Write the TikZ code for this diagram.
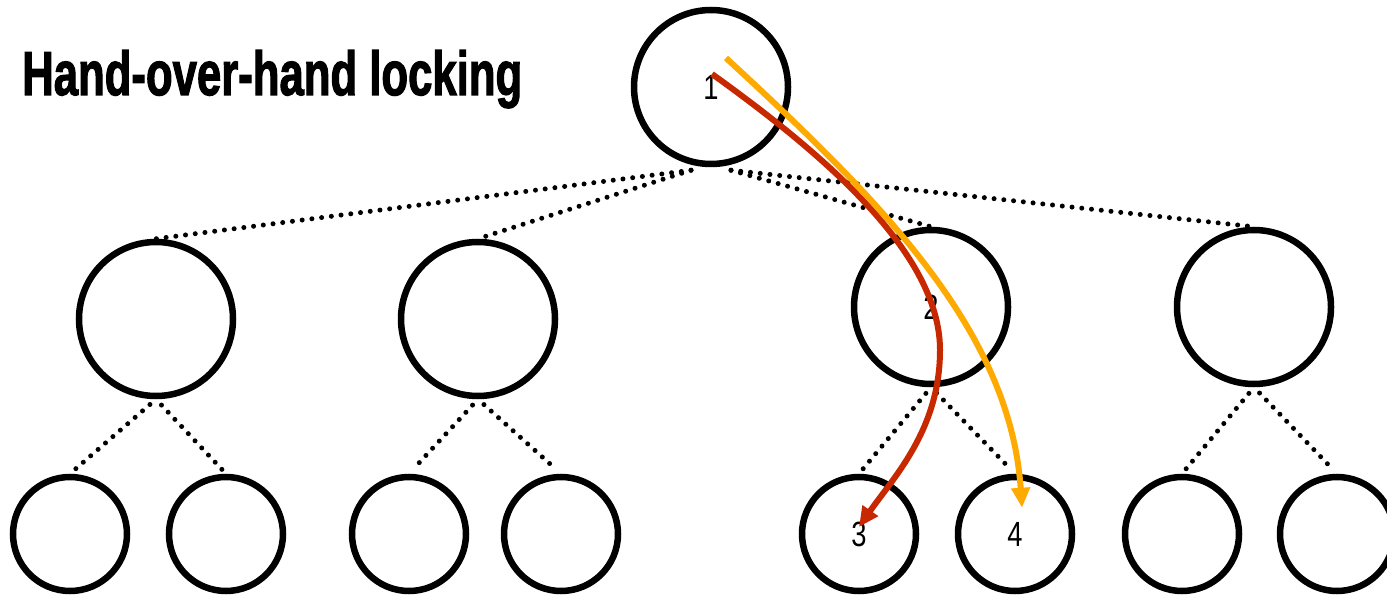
\documentclass[tikz,border=0pt]{standalone}
\usepackage{fontspec}
\setmainfont{Liberation Sans}
\newfontfamily\titlefont[FakeBold=2.2]{Liberation Sans Bold}
\usetikzlibrary{arrows.meta,calc}
\definecolor{lockred}{HTML}{C82800}
\definecolor{lockorange}{HTML}{FFAA00}
\begin{document}
\begin{tikzpicture}[x=1pt,y=-1pt,
  bignode/.style={circle,draw=black,line width=6.5pt,minimum size=154pt,inner sep=0pt,
    font=\fontsize{35}{35}\selectfont},
  smallnode/.style={circle,draw=black,line width=6.5pt,minimum size=114pt,inner sep=0pt,
    font=\fontsize{35}{35}\selectfont},
  dotline/.style={line width=5pt,dash pattern=on 0pt off 9.8pt,line cap=round},
  dotshort/.style={dotline,shorten <=8pt,shorten >=6pt},
  redarrow/.style={draw=lockred,line width=6pt,-{Triangle[length=20pt,width=18pt]}},
  orangearrow/.style={draw=lockorange,line width=6pt,-{Triangle[length=20pt,width=18pt]}},
  titlestyle/.style={anchor=base west,inner sep=0pt,font=\titlefont}
]
\useasboundingbox (0,0) rectangle (1387,596);

\node[titlestyle] (title) at (22,95) {\resizebox{500pt}{45pt}{Hand-over-hand locking}};

% level 1
\node[bignode] (n1) at (711,87) {\scalebox{0.78}[1]{1}};
% level 2
\node[bignode] (a) at (156,319) {};
\node[bignode] (b) at (478,319) {};
\node[bignode] (n2) at (931,307) {\scalebox{0.78}[1]{2}};
\node[bignode] (d) at (1254,307) {};
% level 3
\node[smallnode] (a1) at (70,534) {};
\node[smallnode] (a2) at (226,534) {};
\node[smallnode] (b1) at (409,534) {};
\node[smallnode] (b2) at (561,534) {};
\node[smallnode] (n3) at (859,534) {\scalebox{0.78}[1]{3}};
\node[smallnode] (n4) at (1015,534) {\scalebox{0.78}[1]{4}};
\node[smallnode] (d1) at (1182,534) {};
\node[smallnode] (d2) at (1337,534) {};

% dotted tree edges
\coordinate (n1l) at ($(n1.south)+(-20,3)$);
\coordinate (n1r) at ($(n1.south)+(20,3)$);
\draw[dotline] (n1l) -- (a.north);
\draw[dotline] (n1l) -- (b.north);
\draw[dotline] (n1r) -- (n2.north);
\draw[dotline] (n1r) -- (d.north);

\foreach \p/\l/\r in {a/a1/a2, b/b1/b2, n2/n3/n4, d/d1/d2}{
  \draw[dotshort] (\p.south) -- (\l.north);
  \draw[dotshort] (\p.south) -- (\r.north);
}

% lock arrows
\coordinate (rs) at (712,74);
\coordinate (rm) at (940,350);
\coordinate (os) at (726,58);
\draw[redarrow] (rs) .. controls (815,148) and (940,250) .. (rm)
  .. controls (940,430) and (893,478) .. ($(n3.center)+(0,-7)$);
\draw[orangearrow] (os) .. controls (880,200) and (1010,330) .. ($(n4.north)+(7,34)$);
\end{tikzpicture}
\end{document}
